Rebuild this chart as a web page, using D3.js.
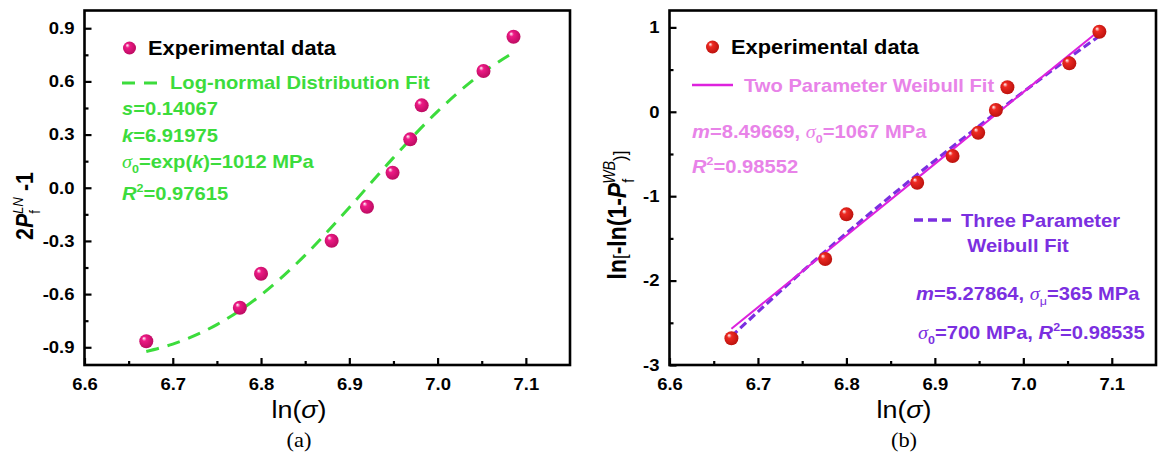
<!DOCTYPE html>
<html lang="en">
<head>
<meta charset="utf-8">
<title>Log-normal and Weibull fits</title>
<script src="https://cdn.jsdelivr.net/npm/d3@7"></script>
<style>
  body { margin: 0; background: #fff; }
  svg { display: block; }
</style>
</head>
<body>
<script>
// data
var xTicks = [6.6, 6.7, 6.8, 6.9, 7.0, 7.1];
var xMinor = [6.65, 6.75, 6.85, 6.95, 7.05];
var lnSigma = [6.670, 6.776, 6.800, 6.880, 6.920, 6.949, 6.969, 6.982, 7.052, 7.086];

// (a) log-normal
var probLN = [-0.866, -0.677, -0.485, -0.299, -0.107, 0.085, 0.273, 0.465, 0.659, 0.852];
var fitLNx = [6.67, 6.70, 6.75, 6.80, 6.85, 6.90, 6.95, 7.00, 7.05, 7.086];
var fitLNy = [-0.924, -0.882, -0.772, -0.605, -0.380, -0.111, 0.170, 0.431, 0.645, 0.763];
var yTicksA = [-0.9, -0.6, -0.3, 0.0, 0.3, 0.6, 0.9];
var yMinorA = [-0.75, -0.45, -0.15, 0.15, 0.45, 0.75];

// (b) Weibull
var probWB = [-2.683, -1.744, -1.215, -0.840, -0.524, -0.248, 0.021, 0.290, 0.574, 0.949];
var fit2x = [6.67, 6.80, 6.90, 7.00, 7.086];
var fit2y = [-2.571, -1.466, -0.617, 0.233, 0.963];
var fit3x = [6.67, 6.75, 6.85, 6.95, 7.05, 7.086];
var fit3y = [-2.660, -1.893, -1.001, -0.168, 0.626, 0.898];
var yTicksB = [-3, -2, -1, 0, 1];
var yMinorB = [-2.5, -1.5, -0.5, 0.5];

var W = 1165, H = 455;
var SX = 1.12;   // the figure is a bit wider than tall, text too
var FONT = "Arial, 'Liberation Sans', sans-serif";
var SERIF = "'Times New Roman', 'Liberation Serif', serif";

var svg = d3.select("body").append("svg")
  .attr("width", W).attr("height", H)
  .style("background", "#fff");

var defs = svg.append("defs");
function ball(id, base, dark) {
  var g = defs.append("radialGradient").attr("id", id)
    .attr("cx", "0.45").attr("cy", "0.45").attr("r", "0.6")
    .attr("fx", "0.32").attr("fy", "0.28");
  g.append("stop").attr("offset", "0").attr("stop-color", "#ffffff");
  g.append("stop").attr("offset", "0.28").attr("stop-color", base);
  g.append("stop").attr("offset", "1").attr("stop-color", dark);
}
ball("pinkBall", "#ee1a86", "#b80a5e");
ball("redBall", "#ee2a22", "#b8100c");

// text with italic / sub / sup pieces
function rich(g, x, y, parts, o) {
  var tr = "translate(" + x + "," + y + ") scale(" + SX + ",1)" + (o.rotate ? " rotate(" + o.rotate + ")" : "");
  var t = g.append("text")
    .attr("transform", tr)
    .attr("font-family", o.family || FONT)
    .attr("font-size", o.size)
    .attr("font-weight", o.weight || "bold")
    .attr("fill", o.fill || "#000")
    .attr("text-anchor", o.anchor || "start");
  var shift = 0;
  parts.forEach(function(p) {
    var s = t.append("tspan").text(p.t);
    var want = p.sub ? 0.30 * o.size : (p.sup ? -0.42 * o.size : 0);
    if (want - shift !== 0) s.attr("dy", want - shift);
    shift = want;
    if (p.sub || p.sup) s.attr("font-size", o.size * 0.62);
    if (p.size) s.attr("font-size", p.size);
    if (p.i) s.attr("font-style", "italic");
    if (p.w) s.attr("font-weight", p.w);
    if (p.f) s.attr("font-family", p.f);
    if (p.dx) s.attr("dx", p.dx);
  });
  return t;
}

function panel(opt) {
  var x = d3.scaleLinear().domain([6.6, 7.15]).range(opt.xr);
  var y = d3.scaleLinear().domain(opt.yd).range([365, 10.5]);
  var g = svg.append("g");

  function stretch(sel) {
    sel.selectAll(".tick text").each(function() {
      var t = d3.select(this);
      var tx = +t.attr("x") || 0, ty = +t.attr("y") || 0;
      t.attr("x", 0).attr("y", 0)
        .attr("transform", "translate(" + tx + "," + ty + ") scale(" + SX + ",1)");
    });
  }

  var xa = g.append("g").attr("transform", "translate(0,365)")
    .call(d3.axisBottom(x).tickValues(xTicks).tickSize(-7).tickSizeOuter(0).tickPadding(13)
      .tickFormat(function(d) { return d.toFixed(1); }));
  g.append("g").attr("transform", "translate(0,365)")
    .call(d3.axisBottom(x).tickValues(xMinor).tickSize(-4).tickSizeOuter(0).tickFormat(""));
  var ya = g.append("g").attr("transform", "translate(" + opt.xr[0] + ",0)")
    .call(d3.axisLeft(y).tickValues(opt.yt).tickSize(-7).tickSizeOuter(0).tickPadding(10)
      .tickFormat(opt.fmt));
  g.append("g").attr("transform", "translate(" + opt.xr[0] + ",0)")
    .call(d3.axisLeft(y).tickValues(opt.ym).tickSize(-4).tickSizeOuter(0).tickFormat(""));

  g.selectAll(".domain").remove();
  g.selectAll(".tick line").attr("stroke", "#000").attr("stroke-width", 2.2);
  [xa, ya].forEach(function(a) {
    a.selectAll(".tick text").attr("font-family", FONT).attr("font-size", 16.5)
      .attr("font-weight", "bold").attr("fill", "#000");
    stretch(a);
  });

  g.append("rect")
    .attr("x", opt.xr[0]).attr("y", 10.5)
    .attr("width", opt.xr[1] - opt.xr[0]).attr("height", 365 - 10.5)
    .attr("fill", "none").attr("stroke", "#000").attr("stroke-width", 2.6);

  rich(g, opt.tx, 418, [{ t: "ln(" }, { t: "σ", i: true }, { t: ")" }],
    { size: 24, weight: "normal", anchor: "middle" });
  rich(g, opt.tx, 447, [{ t: opt.tag }],
    { size: 20, weight: "normal", anchor: "middle", family: SERIF });

  return { g: g, x: x, y: y };
}

// ---------- (a)
var A = panel({
  xr: [84.5, 570], yd: [-1, 1], yt: yTicksA, ym: yMinorA, tag: "(a)", tx: 299,
  fmt: function(d) { return d.toFixed(1); }
});

var green = "#3cdc3c";
A.g.append("path")
  .datum(d3.range(fitLNx.length))
  .attr("fill", "none").attr("stroke", green).attr("stroke-width", 3)
  .attr("stroke-dasharray", "13,9")
  .attr("d", d3.line().curve(d3.curveMonotoneX)
    .x(function(i) { return A.x(fitLNx[i]); })
    .y(function(i) { return A.y(fitLNy[i]); }));

A.g.selectAll("circle.pt")
  .data(lnSigma)
  .enter().append("circle")
  .attr("class", "pt")
  .attr("cx", function(d) { return A.x(d); })
  .attr("cy", function(d, i) { return A.y(probLN[i]); })
  .attr("r", 7)
  .attr("fill", "url(#pinkBall)");

A.g.append("circle").attr("cx", 129.5).attr("cy", 48).attr("r", 6.5).attr("fill", "url(#pinkBall)");
rich(A.g, 148, 55, [{ t: "Experimental data" }], { size: 19.5 });
A.g.append("line").attr("x1", 122).attr("x2", 159).attr("y1", 83).attr("y2", 83)
  .attr("stroke", green).attr("stroke-width", 3).attr("stroke-dasharray", "13,9");
rich(A.g, 170, 89, [{ t: "Log-normal Distribution Fit" }], { size: 18, fill: green });
rich(A.g, 122, 115, [{ t: "s", i: true }, { t: "=0.14067" }], { size: 18, fill: green });
rich(A.g, 122, 142, [{ t: "k", i: true }, { t: "=6.91975" }], { size: 18, fill: green });
rich(A.g, 122, 168, [{ t: "σ", i: true, w: "normal", f: SERIF }, { t: "0", sub: true },
  { t: "=exp(" }, { t: "k", i: true }, { t: ")=1012 MPa" }], { size: 18, fill: green });
rich(A.g, 122, 200, [{ t: "R", i: true }, { t: "2", sup: true }, { t: "=0.97615" }], { size: 18, fill: green });

rich(A.g, 33, 206, [{ t: "2" }, { t: "P", i: true }, { t: "f", sub: true, w: "normal" },
  { t: "LN", sup: true, i: true, w: "normal", dx: -4 }, { t: " -1" }],
  { size: 21.5, anchor: "middle", rotate: -90 });

// ---------- (b)
var B = panel({
  xr: [669.5, 1156], yd: [-3, 1.2], yt: yTicksB, ym: yMinorB, tag: "(b)", tx: 904,
  fmt: function(d) { return String(d); }
});

var magenta = "#dd22dd", pinkText = "#e883e8", purple = "#7b2fe0";
B.g.append("path")
  .datum(d3.range(fit3x.length))
  .attr("fill", "none").attr("stroke", purple).attr("stroke-width", 3.2)
  .attr("stroke-dasharray", "8,4")
  .attr("d", d3.line().curve(d3.curveMonotoneX)
    .x(function(i) { return B.x(fit3x[i]); })
    .y(function(i) { return B.y(fit3y[i]); }));
B.g.append("path")
  .datum(d3.range(fit2x.length))
  .attr("fill", "none").attr("stroke", magenta).attr("stroke-width", 2)
  .attr("d", d3.line()
    .x(function(i) { return B.x(fit2x[i]); })
    .y(function(i) { return B.y(fit2y[i]); }));

B.g.selectAll("circle.pt")
  .data(lnSigma)
  .enter().append("circle")
  .attr("class", "pt")
  .attr("cx", function(d) { return B.x(d); })
  .attr("cy", function(d, i) { return B.y(probWB[i]); })
  .attr("r", 7)
  .attr("fill", "url(#redBall)");

B.g.append("circle").attr("cx", 712.5).attr("cy", 47).attr("r", 6.5).attr("fill", "url(#redBall)");
rich(B.g, 731, 54, [{ t: "Experimental data" }], { size: 19.5 });
B.g.append("line").attr("x1", 692).attr("x2", 733).attr("y1", 85).attr("y2", 85)
  .attr("stroke", magenta).attr("stroke-width", 2.5);
rich(B.g, 744, 92, [{ t: "Two Parameter Weibull Fit" }], { size: 18, fill: pinkText });
rich(B.g, 692, 138, [{ t: "m", i: true }, { t: "=8.49669, " }, { t: "σ", i: true, w: "normal", f: SERIF },
  { t: "0", sub: true }, { t: "=1067 MPa" }], { size: 18, fill: pinkText });
rich(B.g, 692, 173, [{ t: "R", i: true }, { t: "2", sup: true }, { t: "=0.98552" }], { size: 18, fill: pinkText });

B.g.append("line").attr("x1", 914).attr("x2", 953).attr("y1", 220).attr("y2", 220)
  .attr("stroke", purple).attr("stroke-width", 3.5).attr("stroke-dasharray", "9,5");
rich(B.g, 961, 227, [{ t: "Three Parameter" }], { size: 18, fill: purple });
rich(B.g, 1018, 252, [{ t: "Weibull Fit" }], { size: 18, fill: purple, anchor: "middle" });
rich(B.g, 916, 300, [{ t: "m", i: true }, { t: "=5.27864, " }, { t: "σ", i: true, w: "normal", f: SERIF },
  { t: "μ", sub: true, w: "normal" }, { t: "=365 MPa" }], { size: 18, fill: purple });
rich(B.g, 918, 339, [{ t: "σ", i: true, w: "normal", f: SERIF }, { t: "0", sub: true },
  { t: "=700 MPa, " }, { t: "R", i: true }, { t: "2", sup: true }, { t: "=0.98535" }], { size: 18, fill: purple });

rich(B.g, 626, 215, [{ t: "ln" }, { t: "[", w: "normal", size: 17 }, { t: "-ln(1-" }, { t: "P", i: true },
  { t: "f", sub: true, w: "normal" }, { t: "WB", sup: true, i: true, w: "normal", dx: -5 },
  { t: ")]", w: "normal", size: 17 }],
  { size: 23, anchor: "middle", rotate: -90 });
</script>
</body>
</html>
